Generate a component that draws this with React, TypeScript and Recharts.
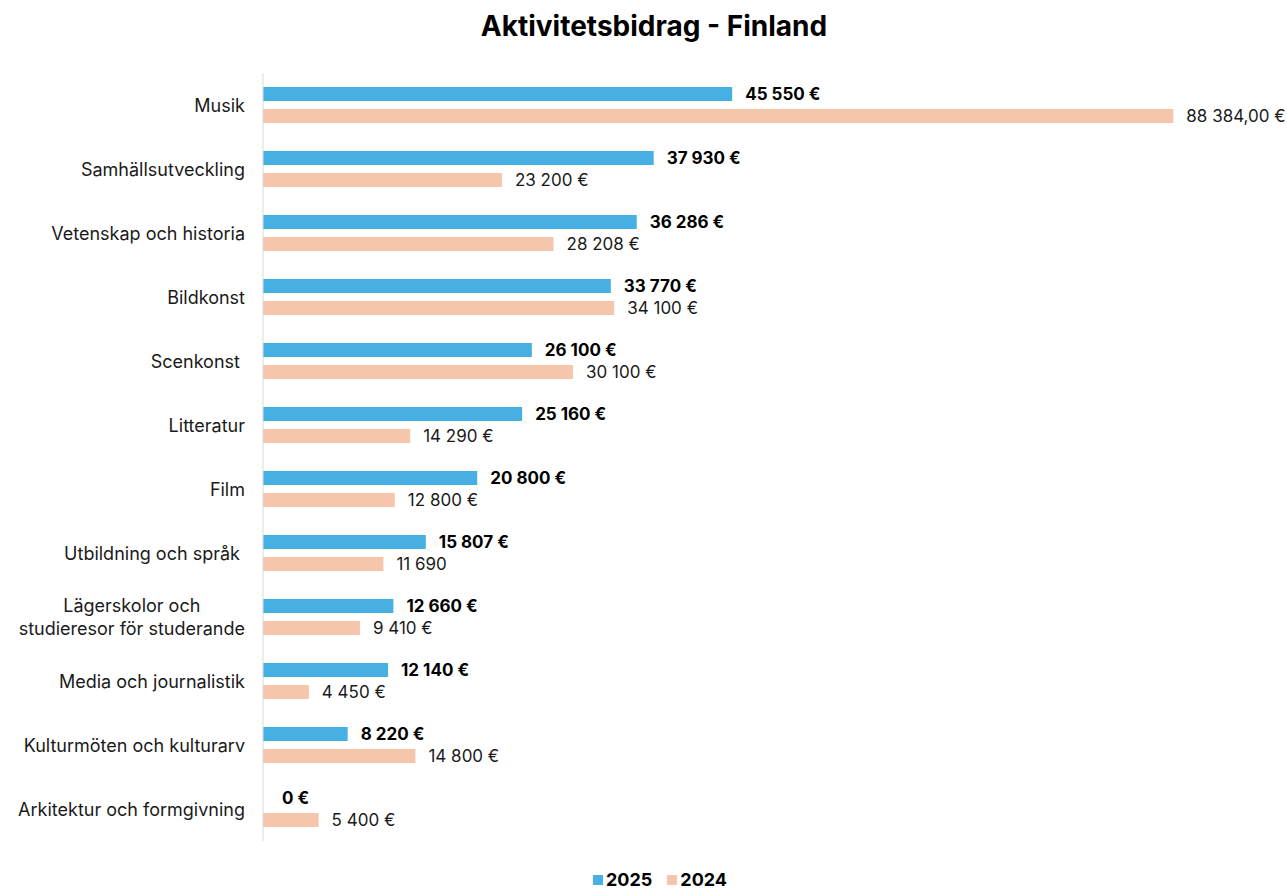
import { BarChart, Bar, XAxis, YAxis, LabelList } from 'recharts'

const categories = [
  'Musik',
  'Samhällsutveckling',
  'Vetenskap och historia',
  'Bildkonst',
  'Scenkonst ',
  'Litteratur',
  'Film',
  'Utbildning och språk ',
  'Lägerskolor och\nstudieresor för studerande',
  'Media och journalistik',
  'Kulturmöten och kulturarv',
  'Arkitektur och formgivning',
]
const values2025 = [45550, 37930, 36286, 33770, 26100, 25160, 20800, 15807, 12660, 12140, 8220, 0]
const values2024 = [88384, 23200, 28208, 34100, 30100, 14290, 12800, 11690, 9410, 4450, 14800, 5400]
const labels2025 = ['45 550 €', '37 930 €', '36 286 €', '33 770 €', '26 100 €', '25 160 €', '20 800 €', '15 807 €', '12 660 €', '12 140 €', '8 220 €', '0 €']
const labels2024 = ['88 384,00 €', '23 200 €', '28 208 €', '34 100 €', '30 100 €', '14 290 €', '12 800 €', '11 690', '9 410 €', '4 450 €', '14 800 €', '5 400 €']
const seriesNames = ['2025', '2024']

const BLUE = '#45B0E1'
const PEACH = '#F5C6AB'
const FONT = 'Inter, "Open Sans", sans-serif'

const data = categories.map((c, i) => ({
  name: c,
  v2025: values2025[i],
  v2024: values2024[i],
  l2025: labels2025[i],
  l2024: labels2024[i],
}))

let ctx: CanvasRenderingContext2D | null = null
function measure(s: string) {
  if (!ctx) ctx = document.createElement('canvas').getContext('2d')
  if (!ctx) return s.length * 9
  ctx.font = '18px ' + FONT
  return ctx.measureText(s).width
}

function CatTick({ x, y, payload }: any) {
  const lines = String(payload.value).split('\n')
  const right = x - 10
  const st = { fontFamily: FONT, fontSize: 18, fill: '#1a1a1a', whiteSpace: 'pre' as const }
  if (lines.length === 1) {
    return (
      <text x={right} y={y} textAnchor="end" dominantBaseline="central" xmlSpace="preserve" style={st}>{lines[0]}</text>
    )
  }
  const w = Math.max(...lines.map(measure))
  const cx = right - w / 2
  return (
    <text textAnchor="middle" style={st}>
      {lines.map((l, i) => (
        <tspan key={i} x={cx} y={y + (i - (lines.length - 1) / 2) * 23} dominantBaseline="central">{l}</tspan>
      ))}
    </text>
  )
}

const labelStyle = (bold: boolean) => ({
  fontFamily: FONT, fontSize: 17, fontWeight: bold ? 700 : 400, fill: bold ? '#000' : '#1a1a1a',
})

function Label2025(props: any) {
  const { x, y, width, height, value } = props
  return (
    <text x={x + width + 13} y={y + height / 2} dominantBaseline="central" style={labelStyle(true)}>{value}</text>
  )
}

// zero-width 2025 bars get no label from recharts, so draw it from the 2024 bar of the same row
function Label2024(props: any) {
  const { x, y, width, height, value, index } = props
  return (
    <g>
      <text x={x + width + 13} y={y + height / 2} dominantBaseline="central" style={labelStyle(false)}>{value}</text>
      {values2025[index] === 0 && (
        <text x={x + 19} y={y - 8 - height / 2} dominantBaseline="central" style={labelStyle(true)}>{labels2025[index]}</text>
      )}
    </g>
  )
}

export default function App() {
  return (
    <div style={{ position: 'absolute', left: 0, top: 0, width: 1287, height: 890, background: '#fff', fontFamily: FONT, overflow: 'hidden' }}>
      <div style={{ position: 'absolute', top: 8, left: 0, width: 1308, textAlign: 'center', fontSize: 28, lineHeight: '36px', fontWeight: 700, color: '#000' }}>
        Aktivitetsbidrag - Finland
      </div>
      <BarChart width={1287} height={890} data={data} layout="vertical"
        margin={{ top: 73, right: 97, bottom: 49, left: 0 }}
        barSize={14} barGap={8}>
        <XAxis type="number" domain={[0, 90000]} hide />
        <YAxis type="category" dataKey="name" width={263} axisLine={{ stroke: '#d9d9d9' }}
          tickLine={false} interval={0} tick={<CatTick />} />
        <Bar dataKey="v2025" name={seriesNames[0]} fill={BLUE} isAnimationActive={false}>
          <LabelList dataKey="l2025" content={<Label2025 />} />
        </Bar>
        <Bar dataKey="v2024" name={seriesNames[1]} fill={PEACH} isAnimationActive={false}>
          <LabelList dataKey="l2024" content={<Label2024 />} />
        </Bar>
      </BarChart>
      <div style={{ position: 'absolute', top: 870, left: 0, width: 1287, display: 'flex', justifyContent: 'center', gap: 15, paddingLeft: 33, boxSizing: 'border-box' }}>
        {seriesNames.map((n, i) => (
          <div key={n} style={{ display: 'flex', alignItems: 'center', gap: 3 }}>
            <div style={{ width: 10, height: 10, background: i === 0 ? BLUE : PEACH }} />
            <span style={{ fontSize: 18, fontWeight: 700, color: '#000', lineHeight: '19px' }}>{n}</span>
          </div>
        ))}
      </div>
    </div>
  )
}
